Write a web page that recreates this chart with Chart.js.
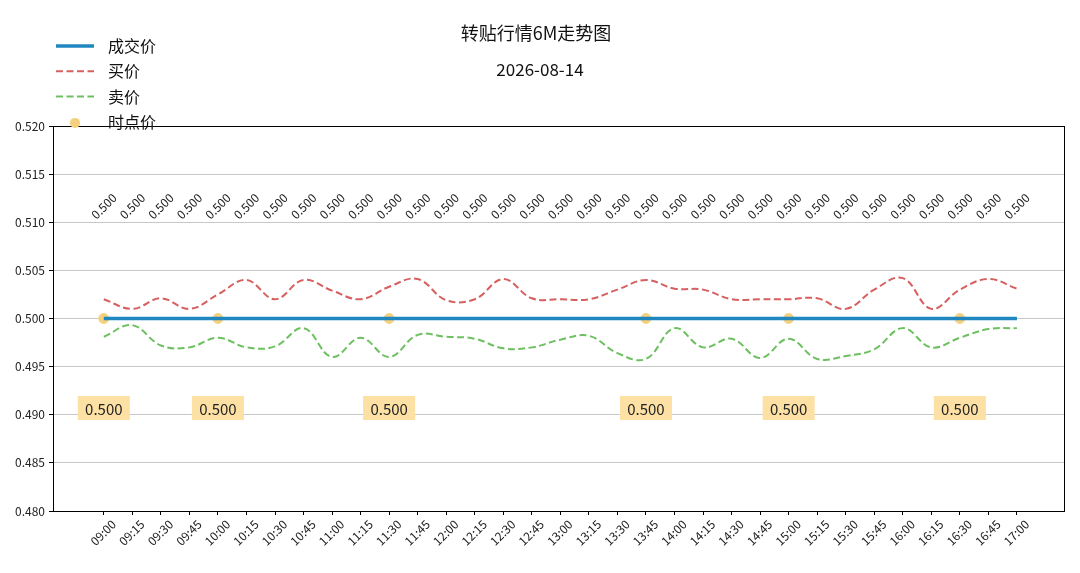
<!DOCTYPE html>
<html>
<head>
<meta charset="utf-8">
<script src="https://cdn.jsdelivr.net/npm/chart.js@4.4.1/dist/chart.umd.min.js"></script>
<style>
  html, body { margin: 0; padding: 0; background: #fff; }
  #wrap { width: 1080px; height: 573px; }
</style>
</head>
<body>
<div id="wrap"><canvas id="chart" width="1080" height="573"></canvas></div>
<script>
// ---- Data ----
const times = ["09:00","09:15","09:30","09:45","10:00","10:15","10:30","10:45","11:00","11:15","11:30",
  "11:45","12:00","12:15","12:30","12:45","13:00","13:15","13:30","13:45","14:00","14:15","14:30",
  "14:45","15:00","15:15","15:30","15:45","16:00","16:15","16:30","16:45","17:00"];

const tradePrice = [0.500,0.500,0.500,0.500,0.500,0.500,0.500,0.500,0.500,0.500,0.500,
  0.500,0.500,0.500,0.500,0.500,0.500,0.500,0.500,0.500,0.500,0.500,0.500,
  0.500,0.500,0.500,0.500,0.500,0.500,0.500,0.500,0.500,0.500];

const bidPrice = [0.5020,0.5010,0.5021,0.5010,0.5025,0.5040,0.5020,0.5040,0.5029,0.5020,0.5033,
  0.5041,0.5019,0.5020,0.5041,0.5021,0.5020,0.5020,0.5030,0.5040,0.5031,0.5030,0.5020,
  0.5020,0.5020,0.5021,0.5010,0.5030,0.5042,0.5010,0.5030,0.5041,0.5031];

const askPrice = [0.4981,0.4993,0.4972,0.4970,0.4980,0.4970,0.4971,0.4990,0.4960,0.4980,0.4960,
  0.4983,0.4981,0.4979,0.4969,0.4970,0.4978,0.4982,0.4964,0.4958,0.4990,0.4970,0.4979,
  0.4959,0.4979,0.4958,0.4961,0.4968,0.4990,0.4970,0.4980,0.4989,0.4990];

// 时点价: index into times + price
const spotIndex = [0, 4, 10, 19, 24, 30];
const spotPrice = [0.500, 0.500, 0.500, 0.500, 0.500, 0.500];

const yTicks = [0.480,0.485,0.490,0.495,0.500,0.505,0.510,0.515,0.520];

const titleText = "转贴行情6M走势图";
const dateText = "2026-08-14";

// ---- Helpers ----
const FONT = '"Noto Sans CJK SC", "DejaVu Sans", sans-serif';
const toXY = arr => arr.map((v, i) => ({ x: i, y: v }));

// Frame on top/right like matplotlib
const framePlugin = {
  id: "frame",
  afterDraw(chart) {
    const a = chart.chartArea, c = chart.ctx;
    c.save();
    c.strokeStyle = "#000";
    c.lineWidth = 1;
    c.strokeRect(a.left + 0.5, a.top + 0.5, a.right - a.left, a.bottom - a.top);
    c.restore();
  }
};

// Value labels: rotated ones above every point, boxed ones under the spot points
const labelPlugin = {
  id: "labels",
  afterDatasetsDraw(chart) {
    const c = chart.ctx, xs = chart.scales.x, ys = chart.scales.y;
    c.save();
    c.font = "12px " + FONT;
    c.fillStyle = "#222";
    c.textAlign = "center";
    c.textBaseline = "middle";
    tradePrice.forEach((v, i) => {
      c.save();
      c.translate(xs.getPixelForValue(i), ys.getPixelForValue(0.510) - 16);
      c.rotate(-Math.PI / 4);
      c.fillText(v.toFixed(3), 0, 0);
      c.restore();
    });

    c.font = "15px " + FONT;
    spotIndex.forEach((idx, k) => {
      const px = xs.getPixelForValue(idx);
      const py = ys.getPixelForValue(0.4907);
      c.fillStyle = "#fce0a4";
      c.fillRect(px - 26, py - 12, 52, 24);
      c.fillStyle = "#222";
      c.fillText(spotPrice[k].toFixed(3), px, py + 1);
    });
    c.restore();
  }
};

// Title, date and legend
const headerPlugin = {
  id: "header",
  afterDraw(chart) {
    const c = chart.ctx;
    c.save();
    c.fillStyle = "#111";
    c.textAlign = "center";
    c.textBaseline = "middle";
    c.font = "18px " + FONT;
    c.fillText(titleText, 536, 33);
    c.font = "17px " + FONT;
    c.fillText(dateText, 540, 70);

    c.textAlign = "left";
    c.font = "16px " + FONT;
    chart.data.datasets.forEach((ds, i) => {
      const y = 46 + i * 25.3;
      if (ds.showLine === false) {
        c.beginPath();
        c.fillStyle = ds.backgroundColor;
        c.arc(75, y + 1, 5, 0, Math.PI * 2);
        c.fill();
      } else {
        c.beginPath();
        c.strokeStyle = ds.borderColor;
        c.lineWidth = ds.borderWidth;
        c.setLineDash(ds.borderDash || []);
        c.moveTo(56, y);
        c.lineTo(94, y);
        c.stroke();
        c.setLineDash([]);
      }
      c.fillStyle = "#111";
      c.fillText(ds.label, 108, y);
    });
    c.restore();
  }
};

// ---- Chart ----
const ctx = document.getElementById("chart").getContext("2d");

new Chart(ctx, {
  type: "line",
  data: {
    datasets: [
      {
        label: "成交价",
        data: toXY(tradePrice),
        borderColor: "#1f86c0",
        borderWidth: 3.5,
        pointRadius: 0,
        order: 0
      },
      {
        label: "买价",
        data: toXY(bidPrice),
        borderColor: "#d65f5f",
        borderWidth: 2,
        borderDash: [7, 3.5],
        tension: 0.4,
        pointRadius: 0,
        order: 2
      },
      {
        label: "卖价",
        data: toXY(askPrice),
        borderColor: "#6cc05f",
        borderWidth: 2,
        borderDash: [7, 3.5],
        tension: 0.4,
        pointRadius: 0,
        order: 2
      },
      {
        label: "时点价",
        data: spotIndex.map((idx, k) => ({ x: idx, y: spotPrice[k] })),
        showLine: false,
        backgroundColor: "#f5d07e",
        borderColor: "#f5d07e",
        pointRadius: 5,
        order: 1
      }
    ]
  },
  options: {
    responsive: false,
    animation: false,
    layout: { padding: { top: 126, right: 16, left: 0, bottom: 0 } },
    plugins: {
      legend: { display: false },
      tooltip: { enabled: false },
      title: { display: false }
    },
    scales: {
      x: {
        type: "linear",
        min: -1.78,
        max: 33.65,
        afterFit: s => { s.height = 62; },
        afterBuildTicks: s => { s.ticks = times.map((t, i) => ({ value: i })); },
        grid: { drawOnChartArea: false, drawTicks: true, tickLength: 4, color: "#000" },
        border: { color: "#000", width: 1 },
        ticks: {
          autoSkip: false,
          maxRotation: 45,
          minRotation: 45,
          labelOffset: 10,
          padding: 2,
          color: "#222",
          font: { family: FONT, size: 12 },
          callback: v => times[v]
        }
      },
      y: {
        min: 0.48,
        max: 0.52,
        afterFit: s => { s.width = 53; },
        afterBuildTicks: s => { s.ticks = yTicks.map(v => ({ value: v })); },
        grid: {
          color: ctx => (ctx.tick && (ctx.tick.value <= 0.4801 || ctx.tick.value >= 0.5199)) ? "rgba(0,0,0,0)" : "#c8c8c8",
          tickColor: "#000",
          tickLength: 4,
          lineWidth: 1
        },
        border: { color: "#000", width: 1 },
        ticks: {
          padding: 4,
          color: "#222",
          font: { family: FONT, size: 12 },
          callback: v => v.toFixed(3)
        }
      }
    }
  },
  plugins: [framePlugin, labelPlugin, headerPlugin]
});
</script>
</body>
</html>
